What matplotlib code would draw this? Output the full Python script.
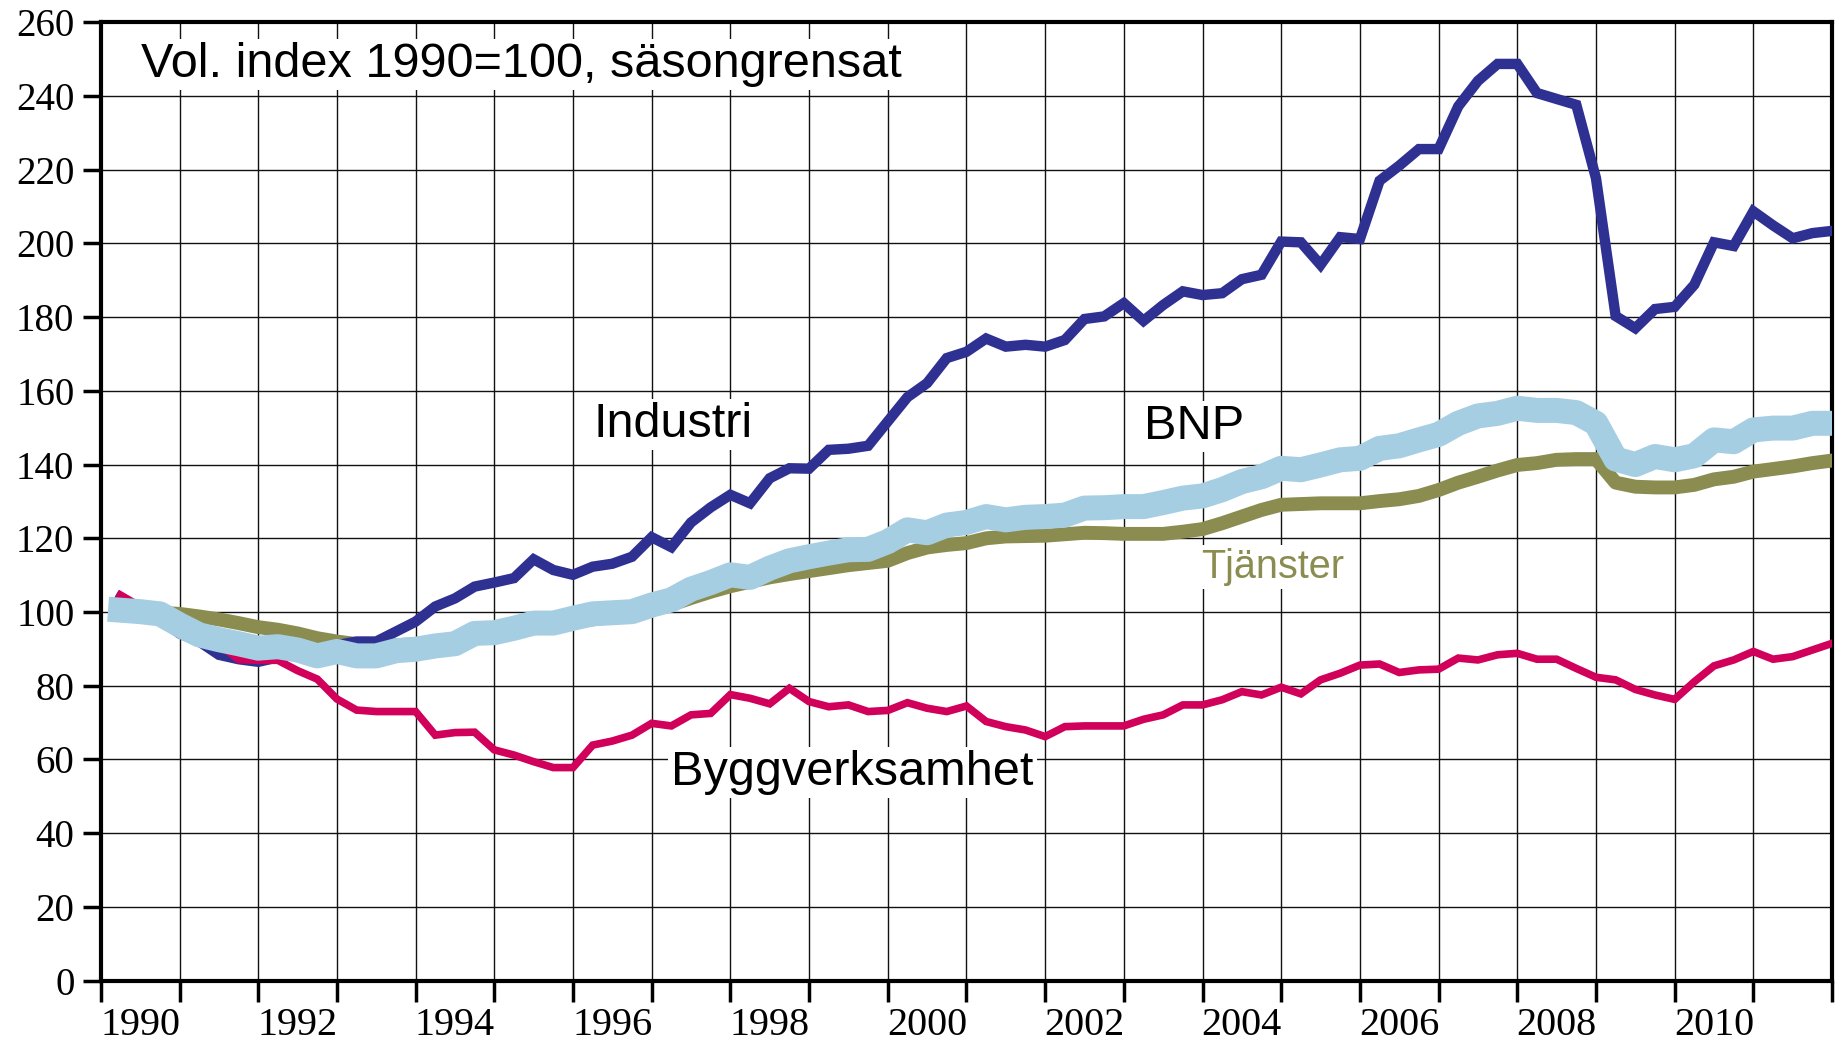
import numpy as np
import matplotlib
matplotlib.use("Agg")
import matplotlib.pyplot as plt
from matplotlib.ticker import MultipleLocator, FixedLocator

# quarterly values, 1990 Q1 .. 2011 Q4 (plotted at quarter end)
industri = [
    104, 101, 98, 94.2,
    92, 88.4, 87.2, 86.5,
    87.7, 88.5, 90, 91,
    92, 92, 94.7, 97.4,
    101.5, 103.7, 106.9, 108,
    109.2, 114.3, 111.4, 110.1,
    112.3, 113.1, 115, 120.3,
    117.6, 124.3, 128.4, 131.8,
    129.5, 136.3, 139, 138.9,
    144, 144.3, 145.1, 151.7,
    158.3, 162.1, 168.9, 170.6,
    174.2, 172, 172.5, 172,
    173.8, 179.5, 180.2, 183.8,
    179, 183.3, 187, 186,
    186.5, 190.3, 191.5, 200.5,
    200.3, 194.2, 201.7, 201.2,
    217, 221.1, 225.6, 225.6,
    237.2, 244.1, 248.7, 248.7,
    240.8, 239.2, 237.6, 217.7,
    180.3, 177, 182.2, 182.8,
    188.8, 200.3, 199.3, 208.7,
    204.9, 201.4, 202.8, 203.4,
]
bnp = [
    100.5, 100.1, 99.5, 96.5,
    93.8, 92.5, 91.4, 90.2,
    90.6, 89.7, 88.1, 89.3,
    88.1, 88.1, 89.5, 89.9,
    90.8, 91.4, 94.2, 94.4,
    95.6, 97, 97, 98.3,
    99.5, 99.8, 100.1, 101.9,
    103.3, 106.2, 108, 110.1,
    109.4, 111.9, 113.9, 115,
    116, 116.9, 117, 119.1,
    122.3, 121.5, 123.6, 124.3,
    125.9, 125, 125.7, 125.9,
    126.3, 128.2, 128.3, 128.6,
    128.6, 129.7, 130.9, 131.5,
    133.2, 135.4, 136.7, 139,
    138.6, 139.9, 141.3, 141.7,
    144.4, 145.1, 146.7, 148.2,
    151.2, 153.2, 153.9, 155.3,
    154.7, 154.7, 154.1, 151.2,
    141.5, 140, 142.2, 141.3,
    142.4, 146.7, 146.2, 149.4,
    149.9, 149.9, 151.2, 151.2,
]
tjanster = [
    100, 100, 99.8, 99.5,
    98.8, 98, 97, 95.9,
    95.2, 94.2, 92.9, 92,
    91.3, 90.8, 91, 91.3,
    92, 92.6, 93.5, 94.3,
    95, 96, 96.6, 97.3,
    98, 98.7, 99.3, 100.5,
    102, 103.8, 105.5, 107,
    108.2, 109.4, 110.3, 111.1,
    111.9, 112.7, 113.3, 113.9,
    116, 117.5, 118.2, 118.7,
    120, 120.5, 120.6, 120.7,
    121.1, 121.5, 121.4, 121.2,
    121.2, 121.2, 121.8, 122.5,
    124.1, 125.9, 127.7, 129.1,
    129.3, 129.5, 129.5, 129.5,
    130.1, 130.6, 131.5, 133.1,
    135.1, 136.7, 138.4, 139.9,
    140.4, 141.3, 141.5, 141.5,
    135.1, 134, 133.8, 133.8,
    134.5, 136, 136.7, 138.1,
    138.8, 139.5, 140.4, 141.1,
]
bygg = [
    104.6, 101.5, 99, 96,
    93.5, 91.3, 87.1, 86.9,
    86.9, 84.1, 81.8, 76.4,
    73.4, 73, 73, 73,
    66.6, 67.3, 67.4, 62.6,
    61.2, 59.4, 57.8, 57.8,
    63.9, 65, 66.6, 69.8,
    69.1, 72.1, 72.5, 77.6,
    76.6, 75.1, 79.3, 75.7,
    74.3, 74.8, 73, 73.3,
    75.4, 73.9, 73, 74.5,
    70.3, 68.9, 68, 66.2,
    68.9, 69.1, 69.1, 69.1,
    70.9, 72.1, 74.8, 74.8,
    76.2, 78.4, 77.5, 79.6,
    77.8, 81.6, 83.4, 85.6,
    85.9, 83.6, 84.3, 84.5,
    87.5, 87, 88.4, 88.8,
    87.2, 87.2, 84.7, 82.3,
    81.6, 79, 77.5, 76.3,
    81.1, 85.4, 87, 89.3,
    87.2, 87.9, 89.7, 91.5,
]
first_year = 1990
last_year = 2012
year_labels = [str(y) for y in range(1990, 2012, 2)]

n = len(industri)
t = first_year + (np.arange(n) + 1) / 4.0

fig = plt.figure(figsize=(18.37, 10.41), dpi=100)
ax = fig.add_axes([0.0549, 0.058, 0.9424, 0.9206])

ax.plot(t, tjanster, color="#8A8D4F", lw=10, zorder=3)
ax.plot(t, industri, color="#2E3192", lw=7.5, zorder=4, solid_joinstyle="miter")
ax.plot(t, bygg, color="#D1005A", lw=5.5, zorder=5, solid_joinstyle="miter")
ax.plot(t, bnp, color="#A6CEE3", lw=18, zorder=6)

ax.set_xlim(first_year, last_year)
ax.set_ylim(0, 260)

ax.yaxis.set_major_locator(MultipleLocator(20))
ax.xaxis.set_major_locator(MultipleLocator(1))
ax.xaxis.set_minor_locator(FixedLocator([int(s) + 0.5 for s in year_labels]))
ax.xaxis.set_major_formatter(plt.NullFormatter())
ax.xaxis.set_minor_formatter(plt.FixedFormatter(year_labels))

ax.grid(True, which="major", color="#111111", lw=1.0)
ax.set_axisbelow(True)

for s in ax.spines.values():
    s.set_linewidth(3)

ax.tick_params(axis="y", which="major", direction="out", length=13, width=2.5,
               pad=6, labelsize=28)
ax.tick_params(axis="x", which="major", direction="out", length=15, width=2.5)
ax.tick_params(axis="x", which="minor", length=0, pad=19, labelsize=29)
for lab in ax.get_xticklabels(which="minor") + ax.get_yticklabels():
    lab.set_family("Liberation Serif")

box = dict(facecolor="white", edgecolor="none", pad=2)
sans = "Liberation Sans"
ax.text(1990.51, 245.1, "Vol. index 1990=100, säsongrensat", fontsize=35,
        family=sans, va="baseline", bbox=box, zorder=1.5)
ax.text(1996.26, 147.4, "Industri", fontsize=35, family=sans,
        va="baseline", bbox=box, zorder=1.5)
ax.text(2003.26, 146.9, "BNP", fontsize=35, family=sans,
        va="baseline", bbox=box, zorder=1.5)
ax.text(2003.98, 109.2, "Tjänster", fontsize=28.5, family=sans, color="#8A8D4F",
        va="baseline", bbox=box, zorder=1.5)
ax.text(1997.25, 53.1, "Byggverksamhet", fontsize=35, family=sans,
        va="baseline", bbox=box, zorder=1.5)

fig.savefig("out.png", dpi=100)
